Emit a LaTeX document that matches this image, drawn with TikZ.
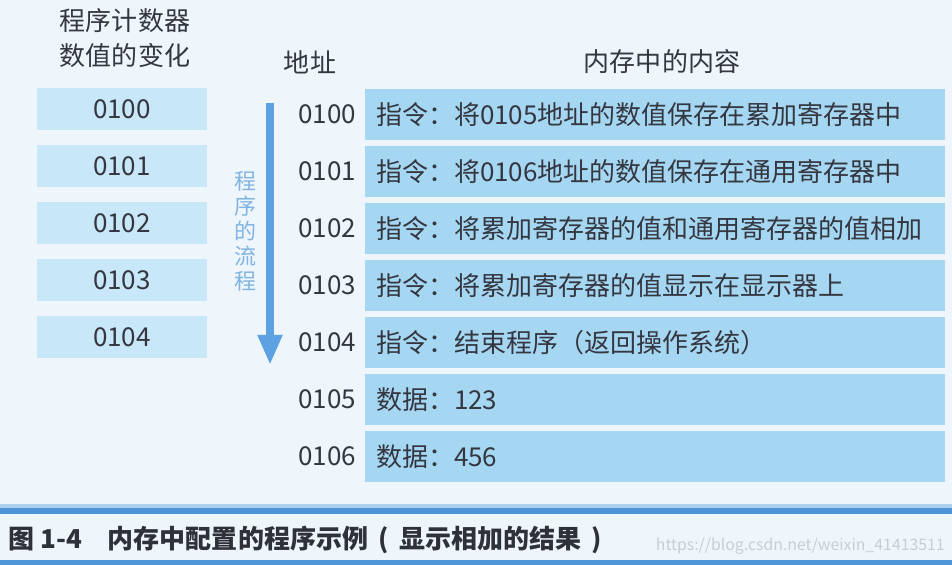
\documentclass[tikz,border=0pt]{standalone}
\usepackage{fontspec}
\setmainfont{Noto Sans CJK SC}
\usetikzlibrary{arrows.meta,positioning}
\definecolor{page_bg}{RGB}{238,246,252}
\definecolor{pc_fill}{RGB}{200,231,248}
\definecolor{mem_fill}{RGB}{166,215,242}
\definecolor{flow_blue}{RGB}{92,162,226}
\definecolor{flow_text}{RGB}{128,180,226}
\definecolor{band_blue}{RGB}{78,150,216}
\definecolor{ink}{RGB}{52,54,64}
\definecolor{mark_gray}{RGB}{200,205,212}
\newcommand\cellfont{\fontsize{14.8}{17}\selectfont}
\newcommand\flowfont{\fontsize{12.5}{14.2}\selectfont}
\newcommand\capfont{\fontsize{14.8}{17}\selectfont\bfseries}

\begin{document}
\begin{tikzpicture}[node distance=1.14cm, >={Triangle[width=0.46cm,length=0.6cm]},
    pcbox/.style={fill=pc_fill, minimum width=3.4cm, minimum height=0.84cm, inner sep=0pt, text=ink, font=\cellfont},
    membox/.style={fill=mem_fill, text width=11.16cm, inner xsep=0.22cm, inner ysep=0pt, minimum height=1.02cm, align=left, text=ink, font=\cellfont},
    addr/.style={inner sep=0pt, text=ink, font=\cellfont},
    heading/.style={inner sep=0pt, text=ink, font=\cellfont, align=center}]
                % page and bottom bands
                \fill[page_bg] (0,0) rectangle (19.04,-11.3);
                \useasboundingbox (0,0) rectangle (19.04,-11.3);
                \fill[band_blue!45] (0,-10.08) rectangle (19.04,-10.16);
                \fill[band_blue] (0,-10.16) rectangle (19.04,-10.28);
                \fill[band_blue] (0,-11.2) rectangle (19.04,-11.3);

                % headings
                \node[heading] (pc_title) at (2.5,-0.76) {程序计数器\\[3pt]数值的变化};
                \node[heading] (addr_title) at (6.2,-1.24) {地址};
                \node[heading] (mem_title) at (13.24,-1.24) {内存中的内容};

                % program counter values
                \node[pcbox] (pc_0100) at (2.44,-2.18) {0100};
                \node[pcbox, below of=pc_0100] (pc_0101) {0101};
                \node[pcbox, below of=pc_0101] (pc_0102) {0102};
                \node[pcbox, below of=pc_0102] (pc_0103) {0103};
                \node[pcbox, below of=pc_0103] (pc_0104) {0104};

                % memory contents
                \node[membox] (mem_0100) at (13.1,-2.29) {指令：将0105地址的数值保存在累加寄存器中};
                \node[membox, below of=mem_0100] (mem_0101) {指令：将0106地址的数值保存在通用寄存器中};
                \node[membox, below of=mem_0101] (mem_0102) {指令：将累加寄存器的值和通用寄存器的值相加};
                \node[membox, below of=mem_0102] (mem_0103) {指令：将累加寄存器的值显示在显示器上};
                \node[membox, below of=mem_0103] (mem_0104) {指令：结束程序（返回操作系统）};
                \node[membox, below of=mem_0104] (mem_0105) {数据：123};
                \node[membox, below of=mem_0105] (mem_0106) {数据：456};

                % addresses
                \node[addr, left of=mem_0100, node distance=6.56cm] (addr_0100) {0100};
                \node[addr, left of=mem_0101, node distance=6.56cm] (addr_0101) {0101};
                \node[addr, left of=mem_0102, node distance=6.56cm] (addr_0102) {0102};
                \node[addr, left of=mem_0103, node distance=6.56cm] (addr_0103) {0103};
                \node[addr, left of=mem_0104, node distance=6.56cm] (addr_0104) {0104};
                \node[addr, left of=mem_0105, node distance=6.56cm] (addr_0105) {0105};
                \node[addr, left of=mem_0106, node distance=6.56cm] (addr_0106) {0106};

                % flow of the program
                \coordinate (flow_top) at (5.4,-2.06);
                \coordinate (flow_tip) at (5.4,-7.3);
                \draw[->, flow_blue, line width=0.16cm] (flow_top) -- (flow_tip);
                \node[inner sep=0pt, text=flow_text, font=\flowfont, align=center] (flow_label) at (4.9,-4.62) {程\\序\\的\\流\\程};

                % caption
                \node[anchor=west, inner sep=0pt, text=ink!90!black, font=\capfont] (caption) at (0.16,-10.8) {图 1-4\hspace{1em}内存中配置的程序示例\hspace{0.4em}(\hspace{0.4em}显示相加的结果\hspace{0.4em})};
                \node[anchor=east, inner sep=0pt, text=mark_gray, font=\fontsize{9}{10}\selectfont] (watermark) at (18.9,-10.92) {https://blog.csdn.net/weixin\_41413511};
            \end{tikzpicture}
\end{document}
